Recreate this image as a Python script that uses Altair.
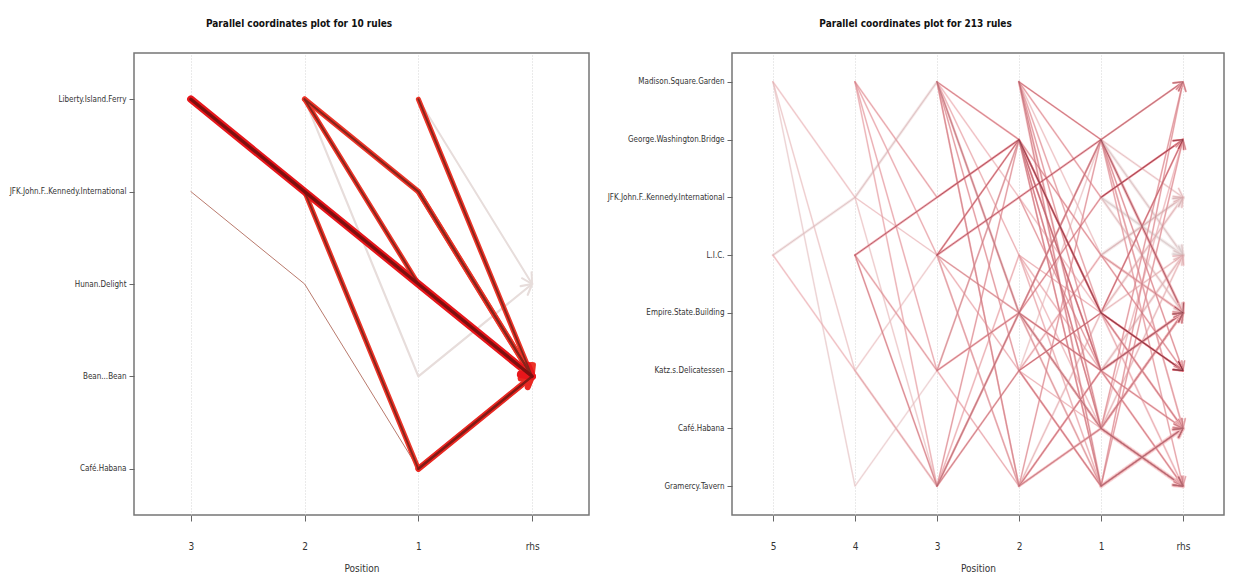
import json
import math
import altair as alt
import pandas as pd

FONT = "DejaVu Sans Condensed, Liberation Sans Narrow, sans-serif"

# ---------------- left panel: 10 rules ----------------
left_title = "Parallel coordinates plot for 10 rules"
left_items = ["Liberty.Island.Ferry", "JFK.John.F..Kennedy.International",
              "Hunan.Delight", "Bean...Bean", "Café.Habana"]
left_positions = ["3", "2", "1", "rhs"]
left_lhs = [[0, 1, 2], [1, 2, 4], [0, 1], [0, 2], [0, 3], [1, 4], [0], [0], [4], [1]]
left_rhs = [3, 3, 3, 3, 2, 3, 3, 2, 3, 3]
left_width = [5.5, 1.0, 3.5, 3.0, 2.2, 3.0, 3.0, 2.0, 4.0, 3.0]
left_lift = [3.0, 1.6, 2.8, 2.8, 0.2, 2.8, 2.8, 0.2, 2.9, 2.8]

# ---------------- right panel: 213 rules (visible paths) ----------------
right_title = "Parallel coordinates plot for 213 rules"
right_items = ["Madison.Square.Garden", "George.Washington.Bridge",
               "JFK.John.F..Kennedy.International", "L.I.C.", "Empire.State.Building",
               "Katz.s.Delicatessen", "Café.Habana", "Gramercy.Tavern"]
right_positions = ["5", "4", "3", "2", "1", "rhs"]
right_lhs = [
    [0, 2, 3, 7, 6], [3, 2, 0, 4, 6], [3, 5, 7, 4, 6], [0, 7, 5, 1, 4], [0, 5, 3, 4, 7],
    [0, 2, 1, 4], [3, 2, 1, 4], [0, 5, 7, 6], [0, 7, 4, 1], [3, 5, 4, 6], [3, 7, 4, 2],
    [5, 7, 4, 6], [0, 3, 7, 5], [2, 7, 5, 1],
    [3, 2, 1], [3, 1, 4], [3, 4, 5], [3, 5, 7], [0, 4, 6], [0, 5, 7], [0, 7, 6], [0, 3, 5],
    [5, 4, 1], [5, 1, 4], [7, 4, 1], [7, 1, 5], [7, 3, 4], [0, 1, 6], [0, 2, 4],
    [0, 6], [0, 7], [0, 5], [0, 4], [0, 3], [1, 4], [1, 6], [1, 5], [4, 1], [4, 7],
    [5, 3], [5, 4], [7, 6], [7, 4], [7, 1], [2, 5], [3, 7], [0, 2],
    [1], [1], [2], [2], [3], [4], [4], [5], [6], [7], [7], [6], [7], [4], [3], [5],
    [0, 1], [0, 1], [1, 7], [4, 5], [5, 6], [3, 6], [1, 3], [4, 6], [7, 5], [5, 7],
    [0, 4, 5], [0, 1, 7], [3, 1, 5], [7, 5, 4], [0, 7, 5],
    [5], [6], [1], [2], [4],
]
right_rhs = [
    4, 7, 1, 5, 6,
    5, 5, 4, 6, 7, 1, 3, 4, 0,
    4, 5, 6, 6, 7, 6, 4, 4, 0, 6, 2, 4, 6, 7, 5,
    7, 6, 4, 5, 2, 5, 7, 4, 0, 6, 4, 1, 4, 3, 0, 4, 6, 1,
    4, 3, 1, 3, 2, 5, 6, 4, 7, 6, 0, 0, 1, 2, 4, 3,
    5, 7, 6, 7, 7, 7, 5, 7, 4, 6,
    7, 6, 4, 1, 4,
    6, 4, 6, 4, 7,
]
right_width = [
    1, 2, 1, 1, 1,
    1, 1.5, 1, 1, 1.2, 1, 1.5, 1, 1,
    1.5, 1, 1, 1, 1, 1, 1, 1, 1, 1, 1.5, 1, 1, 1, 1,
    1.5, 1.5, 1, 1, 1, 1, 1, 1, 1, 1.5, 1.5, 1, 2, 1.5, 1, 1, 1, 1,
    2.5, 2.5, 1.2, 3, 3, 1, 1.5, 2.5, 3.5, 3.5, 1, 1, 1, 2, 2, 2,
    1, 1, 1, 1.2, 1, 1, 1, 1, 1, 1,
    1, 1, 1, 1, 1,
    1.5, 1.5, 1.2, 2, 1.5,
]
right_lift = [
    1.0, 0.5, 1.2, 0.6, 0.8,
    1.8, 2.8, 1.6, 1.5, 1.8, 2.4, 1.0, 1.6, 0.8,
    2.8, 2.4, 2.0, 1.5, 2.0, 2.0, 1.8, 1.5, 2.0, 2.0, 0.8, 2.0, 1.5, 2.0, 1.2,
    2.0, 2.0, 2.0, 1.8, 1.0, 2.4, 2.0, 2.0, 2.0, 1.5, 1.5, 2.0, 1.4, 1.0, 2.0, 2.0, 1.5, 2.0,
    1.0, 0.4, 3.0, 0.2, 0.3, 3.0, 1.5, 1.4, 1.2, 1.2, 2.0, 2.0, 2.0, 0.8, 1.0, 0.8,
    2.2, 1.8, 2.0, 1.6, 1.4, 1.2, 2.2, 1.6, 2.0, 1.8,
    2.0, 1.6, 2.2, 2.4, 1.8,
    1.4, 1.6, 1.2, 0.6, 1.3,
]

PLOT_H = 462
LEFT_W = 455
RIGHT_W = 492
CHEVRON = "M-1,-0.55L0,0L-1,0.55"


def build(items, positions, lhs, rhs, widths, lifts, title, w, h,
          cdomain, crange, halo_range, core_factor, halo_add, opacity, arrow_size, split):
    npos = len(positions)
    ux = w / npos
    uy = h / len(items)
    order = sorted(range(len(lhs)), key=lambda k: (lifts[k], widths[k]))
    path_rows, head_rows = [], []
    for r, k in enumerate(order):
        n = len(lhs[k])
        pts = [(npos - 1 - (n - j), it) for j, it in enumerate(lhs[k])] + [(npos - 1, rhs[k])]
        for s, (px, py) in enumerate(pts):
            path_rows.append({"rule": r, "step": s, "x": px, "y": py,
                              "lift": lifts[k], "w": widths[k]})
        (x0, y0), (x1, y1) = pts[-2], pts[-1]
        ang = math.degrees(math.atan2((y1 - y0) * uy, (x1 - x0) * ux)) % 360
        head_rows.append({"rule": r, "x": x1, "y": y1, "lift": lifts[k],
                          "w": widths[k], "angle": ang})
    paths = pd.DataFrame(path_rows)
    heads = pd.DataFrame(head_rows)

    xlab = "%s[round(datum.value)]" % json.dumps(positions, ensure_ascii=False)
    ylab = "%s[round(datum.value)]" % json.dumps(items, ensure_ascii=False)

    xenc = alt.X("x:Q", scale=alt.Scale(domain=[-0.5, npos - 0.5], nice=False, zero=False),
                 axis=alt.Axis(values=list(range(npos)), labelExpr=xlab, title="Position",
                               grid=True, gridColor="#d4d4d4", gridDash=[1, 2], gridWidth=1,
                               domain=False, tickSize=6, tickColor="#666666",
                               labelPadding=20, labelFontSize=10, labelColor="#333333",
                               titleFontSize=10, titlePadding=12, titleFontWeight="normal",
                               titleColor="#333333"))
    yenc = alt.Y("y:Q", scale=alt.Scale(domain=[-0.5, len(items) - 0.5], reverse=True,
                                        nice=False, zero=False),
                 axis=alt.Axis(values=list(range(len(items))), labelExpr=ylab, title=None,
                               grid=False, domain=False, tickSize=5, tickColor="#666666",
                               labelPadding=3, labelFontSize=8, labelColor="#333333",
                               labelLimit=300))
    core_color = alt.Color("lift:Q", scale=alt.Scale(domain=cdomain, range=crange), legend=None)
    halo_color = alt.Color("lift:Q", scale=alt.Scale(domain=cdomain, range=halo_range),
                           legend=None)

    line_base = alt.Chart(paths).mark_line(strokeCap="round", strokeJoin="round",
                                           opacity=opacity)
    head_base = alt.Chart(heads).mark_point(shape=CHEVRON, filled=False, size=arrow_size,
                                            strokeCap="round", strokeJoin="round",
                                            opacity=opacity)

    def lines(src, col, wexpr):
        return src.transform_calculate(sw=wexpr).encode(
            x=xenc, y=yenc, detail="rule:N", order="step:Q", color=col,
            strokeWidth=alt.StrokeWidth("sw:Q", scale=None))

    def arrows(src, col, wexpr):
        return src.transform_calculate(sw=wexpr).encode(
            x=xenc, y=yenc, color=col, angle=alt.Angle("angle:Q", scale=None),
            strokeWidth=alt.StrokeWidth("sw:Q", scale=None))

    halo_w = "datum.w + %s" % halo_add
    core_w = "datum.w * %s" % core_factor
    if split:
        low_l = line_base.transform_filter("datum.lift < 2")
        high_l = line_base.transform_filter("datum.lift >= 2")
        low_h = head_base.transform_filter("datum.lift < 2")
        high_h = head_base.transform_filter("datum.lift >= 2")
        layers = [lines(low_l, core_color, "datum.w"),
                  arrows(low_h, core_color, "datum.w"),
                  lines(high_l, halo_color, halo_w),
                  arrows(high_h, halo_color, halo_w),
                  lines(high_l, core_color, core_w)]
    else:
        layers = [lines(line_base, halo_color, halo_w),
                  lines(line_base, core_color, core_w),
                  arrows(head_base, halo_color, halo_w),
                  arrows(head_base, core_color, core_w)]

    return alt.layer(*layers).resolve_scale(color="independent").properties(
        width=w, height=h,
        title=alt.TitleParams(title, fontSize=10, fontWeight="bold", font=FONT, offset=24,
                              anchor="middle", frame="bounds", color="#111111"))


left = build(left_items, left_positions, left_lhs, left_rhs, left_width, left_lift,
             left_title, LEFT_W, PLOT_H, [0, 3], ["#ececec", "#7d0f0f"],
             ["#f0f0f0", "#e8161b"], 0.6, 2, 1.0, 420, True)
right = build(right_items, right_positions, right_lhs, right_rhs, right_width, right_lift,
              right_title, RIGHT_W, PLOT_H, [0, 1.3, 3],
              ["#d2cbcb", "#d9949b", "#7c2232"],
              ["#eeeeee", "#f6c3c6", "#ee7a85"], 0.55, 0.8, 0.68, 300, False)

chart = alt.hconcat(left, right, spacing=16).properties(
    padding={"left": 0, "right": 0, "top": 10, "bottom": 0}
).configure(font=FONT).configure_view(stroke="#767676", strokeWidth=1.5).configure_axis(
    labelFont=FONT, titleFont=FONT)

chart.save("out.html", embed_options={"renderer": "svg", "actions": False})
